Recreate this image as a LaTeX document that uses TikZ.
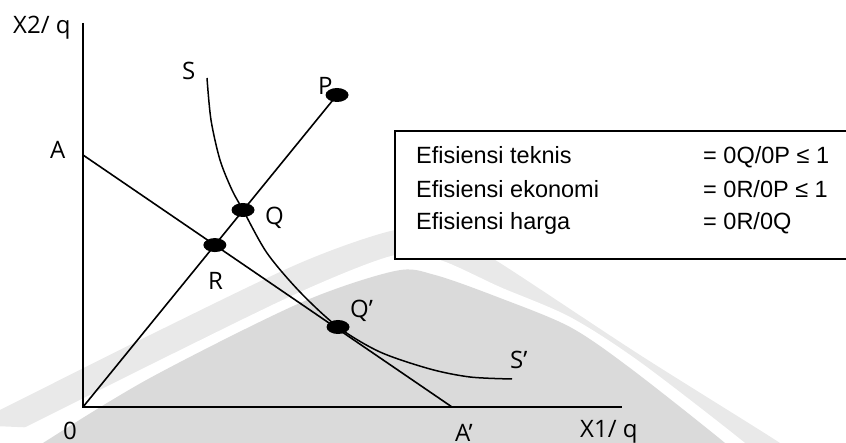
\documentclass[tikz,border=0pt]{standalone}
\usepackage{fontspec}
\setmainfont{Open Sans}
\newfontfamily\boxfont{Liberation Sans}
\usepackage{tikz}
\usetikzlibrary{shapes}

\definecolor{wmlight}{gray}{0.915}
\definecolor{wmdark}{gray}{0.855}

\tikzset{
  dot/.style={ellipse, fill=black, minimum width=23pt, minimum height=14pt, inner sep=0pt},
  lbl/.style={anchor=base west, inner sep=0pt, font=\fontsize{24}{29}\selectfont},
  row/.style={anchor=base west, inner sep=0pt, font=\boxfont\fontsize{23.5}{28}\selectfont}
}

\begin{document}
\begin{tikzpicture}[x=1pt, y=-1pt]
        \useasboundingbox (0,0) rectangle (846,443);
        \clip (0,0) rectangle (846,443);
        \fill[wmlight] plot[smooth] coordinates {(-30,425) (0,410) (150,335) (300,263) (395,230) (445,232) (500,263) (640,355) (780,443) (800,460)} -- cycle;
        \fill[white] plot[smooth] coordinates {(-30,455) (0,440) (150,365) (300,292) (395,255) (440,260) (500,287) (570,317) (640,362) (745,443) (760,460)} -- cycle;
        \fill[wmdark] plot[smooth] coordinates {(20,460) (43,443) (150,378) (300,303) (395,271) (435,275) (500,298) (570,327) (630,368) (725,443) (740,460)} -- cycle;

        \coordinate (O) at (83,407);
        \coordinate (Ytop) at (83,23);
        \coordinate (Xend) at (622,407);
        \coordinate (A) at (83,155);
        \coordinate (Ap) at (452,407);
        \coordinate (P) at (337,95);
        \coordinate (R) at (intersection of O--P and A--Ap);
        \coordinate (Q) at (243,210);
        \coordinate (Qp) at (338,327);
        \coordinate (S0) at (207,78);
        \coordinate (S1) at (512,379);

        \draw[line width=1.9pt] (Ytop) -- (O) -- (Xend);
        \draw[line width=1.6pt] (A) -- (Ap);
        \draw[line width=1.6pt] (O) -- (P);
        \draw[line width=1.5pt] plot[smooth] coordinates {(S0) (211,120) (220,160) (232,190) (Q) (267,253) (300,292) (Qp) (380,352) (430,369) (470,377) (S1)};

        \node[dot] (p) at (P) {};
        \node[dot] (q) at (Q) {};
        \node[dot] (r) at (R) {};
        \node[dot] (qp) at (Qp) {};

        \node[lbl] (ylab) at (13,34) {X2/ q};
        \node[lbl] (xlab) at (580,437) {X1/ q};
        \node[lbl] (olab) at (63,439) {0};
        \node[lbl] (alab) at (50,159) {A};
        \node[lbl] (aplab) at (455,441) {A’};
        \node[lbl] (slab) at (182,80) {S};
        \node[lbl] (splab) at (510,369) {S’};
        \node[lbl] (plab) at (318,95) {P};
        \node[lbl] (qlab) at (265,225) {Q};
        \node[lbl] (rlab) at (208,290) {R};
        \node[lbl] (qplab) at (350,318) {Q’};

        \node[draw, fill=white, line width=2.4pt, outer sep=0pt, anchor=north west,
              minimum width=480pt, minimum height=128pt] (legend) at (395,131) {};
        \node[row] (t1) at (416,164) {Efisiensi teknis};
        \node[row] (t2) at (416,198) {Efisiensi ekonomi};
        \node[row] (t3) at (416,230) {Efisiensi harga};
        \node[row] (v1) at (703,164) {= 0Q/0P ≤ 1};
        \node[row] (v2) at (703,198) {= 0R/0P ≤ 1};
        \node[row] (v3) at (703,230) {= 0R/0Q};
    \end{tikzpicture}
\end{document}
